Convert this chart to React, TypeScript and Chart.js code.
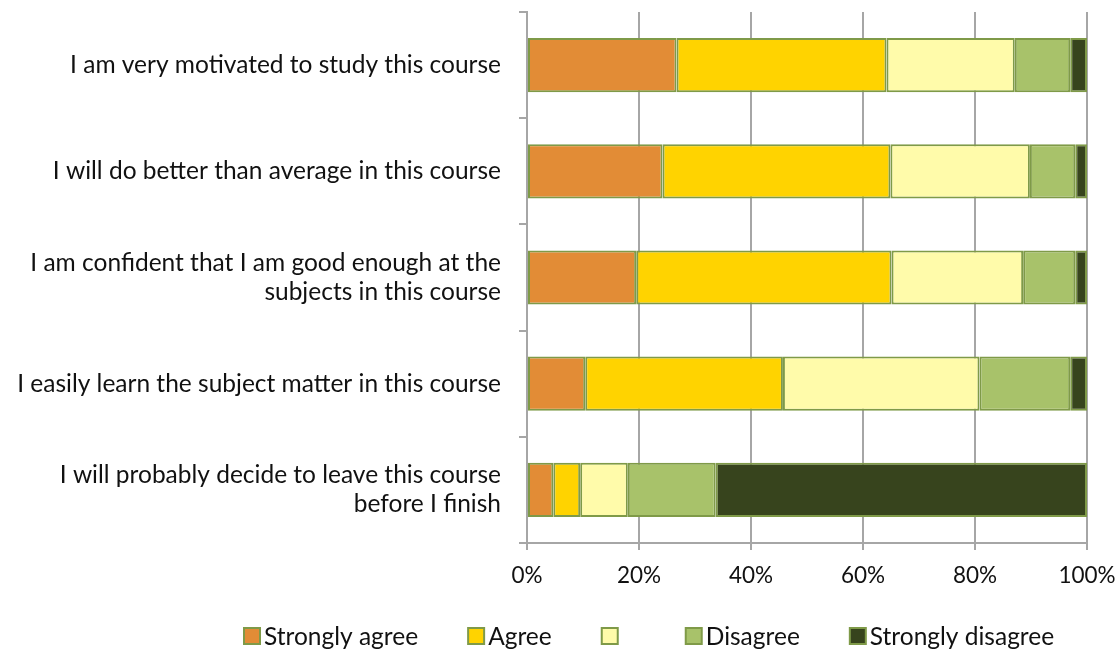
import React, { useEffect, useRef } from "react";
import { Chart, registerables } from "chart.js";

Chart.register(...registerables);

const categories: (string | string[])[] = [
  "I am very motivated to study this course",
  "I will do better than average in this course",
  ["I am confident that I am good enough at the", "subjects in this course"],
  "I easily learn the subject matter in this course",
  ["I will probably decide to leave this course", "before I finish"],
];

const seriesNames = ["Strongly agree", "Agree", "", "Disagree", "Strongly disagree"];
const stronglyAgree = [26.7, 24.2, 19.5, 10.4, 4.7];
const agree = [37.5, 40.7, 45.6, 35.3, 4.8];
const neutral = [22.9, 24.9, 23.5, 35.1, 8.5];
const disagree = [9.9, 8.1, 9.3, 16.2, 15.7];
const stronglyDisagree = [3.0, 2.1, 2.1, 3.0, 66.3];
const colors = ["#E28C36", "#FFD300", "#FFFBAA", "#A8C26A", "#37441D"];
const borderColor = "#7F9A48";
const xTicks = [0, 20, 40, 60, 80, 100];
const FONT = "Lato";

const legendPlugin = {
  id: "customLegend",
  afterDraw(chart: any) {
    const ctx = chart.ctx;
    ctx.save();
    ctx.font = `24.5px ${FONT}`;
    ctx.textBaseline = "middle";
    ctx.textAlign = "left";
    const box = 16;
    const textGap = 4;
    const itemGap = 50;
    const cy = 636;
    let x = 244;
    chart.data.datasets.forEach((ds: any) => {
      const label = ds.label || "";
      ctx.fillStyle = ds.backgroundColor;
      ctx.fillRect(x, cy - box / 2, box, box);
      ctx.strokeStyle = borderColor;
      ctx.lineWidth = 2;
      ctx.strokeRect(x, cy - box / 2, box, box);
      x += box + textGap;
      ctx.fillStyle = "#111";
      ctx.fillText(label, x, cy + 1);
      const w = label ? ctx.measureText(label).width : 14;
      x += w + itemGap;
    });
    ctx.restore();
  },
};

export default function App() {
  const ref = useRef<HTMLCanvasElement | null>(null);
  useEffect(() => {
    if (!ref.current) return;
    const values = [stronglyAgree, agree, neutral, disagree, stronglyDisagree];
    const chart = new Chart(ref.current, {
      type: "bar",
      data: {
        labels: categories,
        datasets: values.map((v, i) => ({
          label: seriesNames[i],
          data: v,
          backgroundColor: colors[i],
          borderColor: borderColor,
          borderWidth: 2,
          borderSkipped: false,
          categoryPercentage: 1,
          barPercentage: 0.51,
        })),
      },
      plugins: [legendPlugin],
      options: {
        indexAxis: "y",
        animation: false,
        responsive: false,
        layout: { padding: { left: 0, right: 33, top: 12, bottom: 37 } },
        plugins: {
          legend: { display: false },
          tooltip: { enabled: false },
        },
        scales: {
          x: {
            stacked: true,
            min: 0,
            max: 100,
            afterBuildTicks: (s: any) => {
              s.ticks = xTicks.map((v) => ({ value: v }));
            },
            afterFit: (s: any) => {
              s.height = 73;
              s.paddingLeft = 0;
              s.paddingRight = 0;
            },
            ticks: {
              callback: (v: any) => v + "%",
              font: { family: FONT, size: 22.5 },
              color: "#111",
              padding: 12,
              maxRotation: 0,
            },
            grid: { color: "#A6A6A6", lineWidth: 2, tickLength: 7 },
            border: { display: true, color: "#A6A6A6", width: 2 },
          },
          y: {
            stacked: true,
            afterFit: (s: any) => {
              s.width = 527;
              s.paddingTop = 0;
              s.paddingBottom = 0;
            },
            ticks: {
              font: { family: FONT, size: 24.5, lineHeight: 1.18 },
              color: "#111",
              padding: 18,
            },
            grid: {
              offset: true,
              drawOnChartArea: false,
              color: "#A6A6A6",
              lineWidth: 2,
              tickLength: 8,
            },
            border: { display: true, color: "#A6A6A6", width: 2 },
          },
        },
      },
    });
    return () => chart.destroy();
  }, []);
  return (
    <div style={{ position: "absolute", left: 0, top: 0, width: 1120, height: 653, background: "#fff" }}>
      <canvas ref={ref} width={1120} height={653} />
    </div>
  );
}
